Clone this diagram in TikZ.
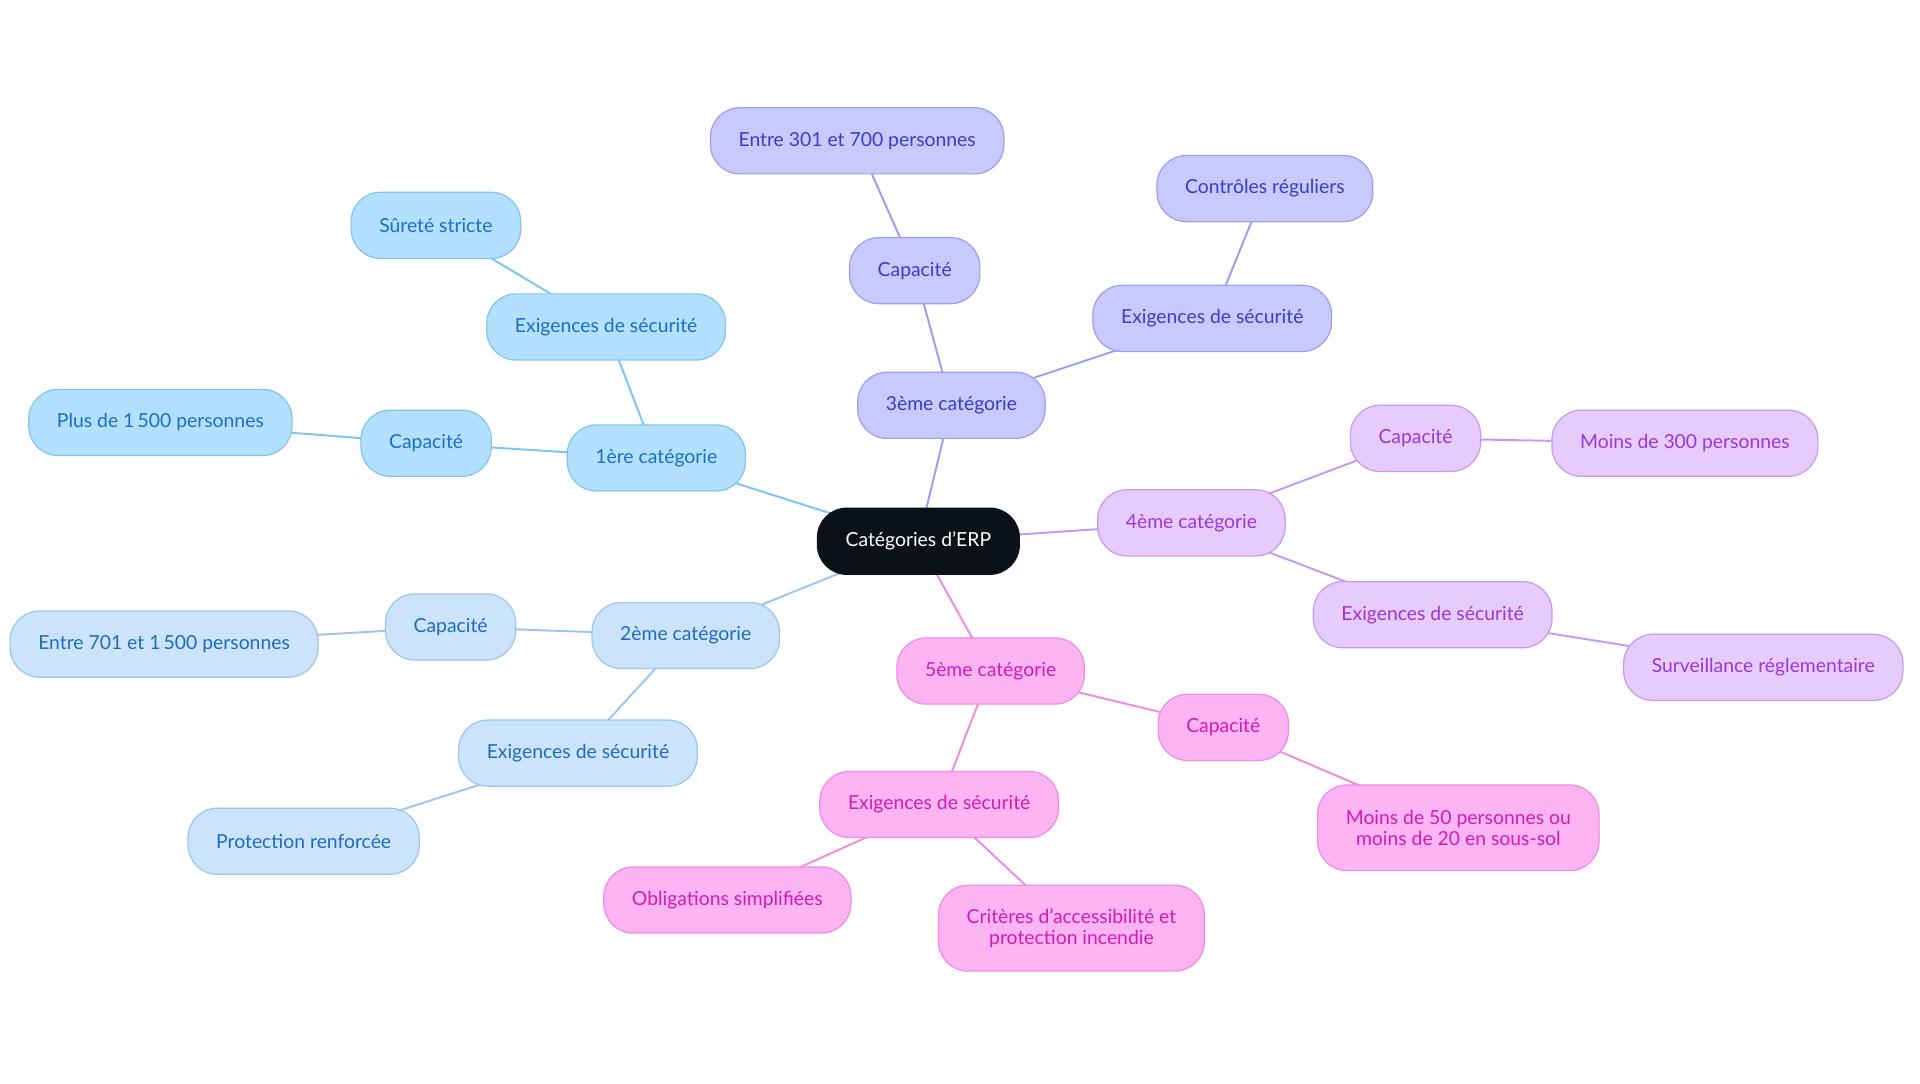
\documentclass[tikz,border=0pt]{standalone}
\usepackage{fontspec}
\setmainfont{Lato}
\usetikzlibrary{positioning,backgrounds}

\definecolor{rootfill}{HTML}{0B1119}
\definecolor{bluefill}{HTML}{B3E0FF}
\definecolor{blueline}{HTML}{7FC4F4}
\definecolor{bluetext}{HTML}{1A6FC6}
\definecolor{skyfill}{HTML}{CCE4FB}
\definecolor{skyline}{HTML}{9CC5F0}
\definecolor{skytext}{HTML}{1E6BC0}
\definecolor{lavfill}{HTML}{C8C9FD}
\definecolor{lavline}{HTML}{9D9EF2}
\definecolor{lavtext}{HTML}{3C3CC8}
\definecolor{purfill}{HTML}{E6CBFD}
\definecolor{purline}{HTML}{C79AF2}
\definecolor{purtext}{HTML}{9B36D9}
\definecolor{pinkfill}{HTML}{FDB4F3}
\definecolor{pinkline}{HTML}{F08AE2}
\definecolor{pinktext}{HTML}{D21BB6}

\begin{document}
\begin{tikzpicture}[x=1pt,y=-1pt,
  pill/.style={rectangle,rounded corners=24pt,minimum height=54pt,inner xsep=23pt,
    line width=1pt,align=center,font=\fontsize{15.8}{17}\selectfont},
  root node/.style={pill,fill=rootfill,draw=rootfill,text=white},
  blue node/.style={pill,fill=bluefill,draw=blueline,text=bluetext},
  sky node/.style={pill,fill=skyfill,draw=skyline,text=skytext},
  lav node/.style={pill,fill=lavfill,draw=lavline,text=lavtext},
  pur node/.style={pill,fill=purfill,draw=purline,text=purtext},
  pink node/.style={pill,fill=pinkfill,draw=pinkline,text=pinktext}]
  \useasboundingbox (0,0) rectangle (1568,884.5);
  \node[root node] (root) at (750,442) {Catégories d'ERP};
  % 1ere categorie
  \node[blue node] (c1) at (536,374) {1ère catégorie};
  \node[blue node] (c1s) at (495,267) {Exigences de sécurité};
  \node[blue node] (c1ss) at (356,184) {Sûreté stricte};
  \node[blue node] (c1c) at (348,362) {Capacité};
  \node[blue node] (c1cc) at (131,345) {Plus de 1\,500 personnes};
  % 2eme categorie
  \node[sky node] (c2) at (560,519) {2ème catégorie};
  \node[sky node] (c2c) at (368,512) {Capacité};
  \node[sky node] (c2cc) at (134,526) {Entre 701 et 1\,500 personnes};
  \node[sky node] (c2s) at (472,615) {Exigences de sécurité};
  \node[sky node] (c2ss) at (248,687) {Protection renforcée};
  % 3eme categorie
  \node[lav node] (c3) at (777,331) {3ème catégorie};
  \node[lav node] (c3c) at (747,221) {Capacité};
  \node[lav node] (c3cc) at (700,115) {Entre 301 et 700 personnes};
  \node[lav node] (c3s) at (990,260) {Exigences de sécurité};
  \node[lav node] (c3ss) at (1033,154) {Contrôles réguliers};
  % 4eme categorie
  \node[pur node] (c4) at (973,427) {4ème catégorie};
  \node[pur node] (c4c) at (1156,358) {Capacité};
  \node[pur node] (c4cc) at (1376,362) {Moins de 300 personnes};
  \node[pur node] (c4s) at (1170,502) {Exigences de sécurité};
  \node[pur node] (c4ss) at (1440,545) {Surveillance réglementaire};
  % 5eme categorie
  \node[pink node] (c5) at (809,548) {5ème catégorie};
  \node[pink node] (c5c) at (999,594) {Capacité};
  \node[pink node,minimum height=70pt] (c5cc) at (1191,676) {Moins de 50 personnes ou\\moins de 20 en sous-sol};
  \node[pink node] (c5s) at (767,657) {Exigences de sécurité};
  \node[pink node] (c5ss) at (594,735) {Obligations simplifiées};
  \node[pink node,minimum height=70pt] (c5sa) at (875,758) {Critères d'accessibilité et\\protection incendie};
  \begin{scope}[on background layer]
  \path[line width=1.6pt]
    (root.center) edge[blueline] (c1.center)
           edge[skyline] (c2.center)
           edge[lavline] (c3.center)
           edge[purline] (c4.center)
           edge[pinkline] (c5.center)
    (c1.center) edge[blueline] (c1s.center)
         edge[blueline] (c1c.center)
    (c1s.center) edge[blueline] (c1ss.center)
    (c1c.center) edge[blueline] (c1cc.center)
    (c2.center) edge[skyline] (c2c.center)
         edge[skyline] (c2s.center)
    (c2c.center) edge[skyline] (c2cc.center)
    (c2s.center) edge[skyline] (c2ss.center)
    (c3.center) edge[lavline] (c3c.center)
         edge[lavline] (c3s.center)
    (c3c.center) edge[lavline] (c3cc.center)
    (c3s.center) edge[lavline] (c3ss.center)
    (c4.center) edge[purline] (c4c.center)
         edge[purline] (c4s.center)
    (c4c.center) edge[purline] (c4cc.center)
    (c4s.center) edge[purline] (c4ss.center)
    (c5.center) edge[pinkline] (c5c.center)
         edge[pinkline] (c5s.center)
    (c5c.center) edge[pinkline] (c5cc.center)
    (c5s.center) edge[pinkline] (c5ss.center)
          edge[pinkline] (c5sa.center);
  \end{scope}
\end{tikzpicture}
\end{document}
